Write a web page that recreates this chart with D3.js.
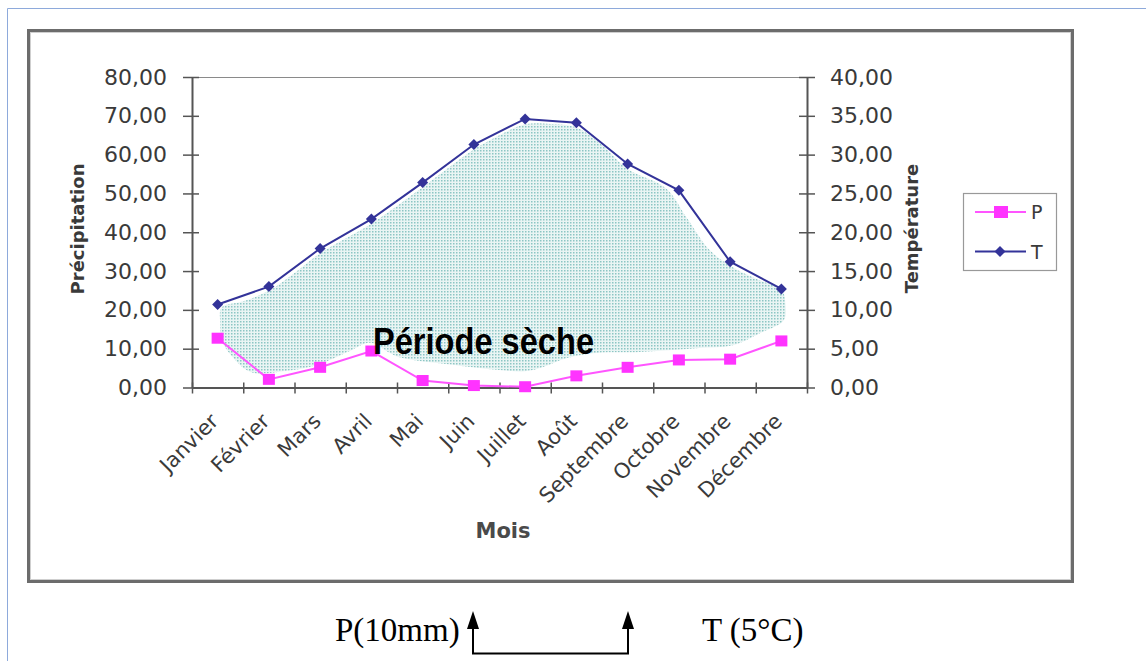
<!DOCTYPE html>
<html>
<head>
<meta charset="utf-8">
<script src="https://cdn.jsdelivr.net/npm/d3@7"></script>
<style>
  body { margin: 0; background: #ffffff; }
  svg { display: block; }
</style>
</head>
<body>
<svg id="chart" width="1146" height="661"></svg>
<script>
// Monthly climate data
const months = ["Janvier", "Février", "Mars", "Avril", "Mai", "Juin", "Juillet", "Août", "Septembre", "Octobre", "Novembre", "Décembre"];
const precipitation = [12.7, 2.1, 5.2, 9.4, 1.8, 0.5, 0.2, 3.0, 5.2, 7.1, 7.3, 12.0];
const temperature = [10.7, 13.0, 17.9, 21.7, 26.4, 31.3, 34.6, 34.1, 28.8, 25.4, 16.2, 12.7];
const precipTicks = [0, 10, 20, 30, 40, 50, 60, 70, 80];
const tempTicks = [0, 5, 10, 15, 20, 25, 30, 35, 40];
const seriesNames = ["P", "T"];

// Outline of the dry period zone: [month position, value on precipitation axis]
const dryZone = [
  [0.08, 20.6], [0.5, 22.2], [1.0, 24.9], [1.5, 29.5], [2.0, 34.6], [3.0, 42.2],
  [4.0, 51.6], [5.0, 61.3], [5.5, 65.0], [6.0, 67.8], [6.5, 67.9], [7.0, 67.0],
  [7.5, 62.5], [8.0, 56.3], [8.75, 51.3], [9.15, 43.8], [9.6, 35.4], [10.05, 31.0],
  [10.58, 27.6], [11.0, 25.3], [11.08, 21.5], [11.05, 17.4], [10.58, 14.0],
  [10.05, 10.9], [9.4, 10.2], [8.8, 9.6], [8.15, 9.1], [7.5, 9.0], [6.82, 7.6],
  [6.35, 5.3], [6.0, 4.2], [5.5, 4.5], [4.5, 6.0], [3.5, 8.0], [2.98, 11.5],
  [2.58, 9.4], [1.94, 5.8], [1.28, 4.2], [0.64, 4.0], [0.25, 8.5], [0.08, 12.2],
  [0.05, 16.5]
];

const sans = "'DejaVu Sans', sans-serif";
const textColor = "#3a3a3a";
const axisColor = "#555555";
const pColor = "#ff33ff";
const pLine = "#ff55ff";
const tColor = "#333399";

const svg = d3.select("#chart");

// Plot area bounds
const plotLeft = 192, plotRight = 807, plotTop = 77, plotBottom = 387.5;

const x = d3.scaleBand().domain(months).range([plotLeft, plotRight]);
const xPos = d3.scaleLinear().domain([-0.5, months.length - 0.5]).range([plotLeft, plotRight]);
const yP = d3.scaleLinear().domain([0, 80]).range([plotBottom, plotTop]);
const yT = d3.scaleLinear().domain([0, 40]).range([plotBottom, plotTop]);
const cx = m => x(m) + x.bandwidth() / 2;
const fmt = d => d3.format(".2f")(d).replace(".", ",");

// Page edge
svg.append("path")
  .attr("d", "M7.5,661V8.5H1146")
  .attr("fill", "none")
  .attr("stroke", "#8eaadb")
  .attr("stroke-width", 1);

// Chart frame
svg.append("rect")
  .attr("x", 28.5).attr("y", 30.5)
  .attr("width", 1044).attr("height", 551)
  .attr("fill", "#ffffff")
  .attr("stroke", "#6c6c6c")
  .attr("stroke-width", 3);
svg.append("rect")
  .attr("x", 30.5).attr("y", 32.5)
  .attr("width", 1040).attr("height", 547)
  .attr("fill", "none")
  .attr("stroke", "#cfcfcf")
  .attr("stroke-width", 1);

// Dotted fill pattern
const pattern = svg.append("defs").append("pattern")
  .attr("id", "dots")
  .attr("patternUnits", "userSpaceOnUse")
  .attr("width", 3).attr("height", 3);
pattern.append("rect").attr("width", 3).attr("height", 3).attr("fill", "#eaf5f4");
pattern.append("rect").attr("width", 1.5).attr("height", 1.5).attr("fill", "#8cc6c4");

// Plot area top border
svg.append("line")
  .attr("x1", plotLeft).attr("x2", plotRight)
  .attr("y1", plotTop + 0.5).attr("y2", plotTop + 0.5)
  .attr("stroke", "#8a8a8a").attr("stroke-width", 1);

// Dry period zone
svg.append("path")
  .datum(dryZone)
  .attr("d", d3.line()
    .x(d => xPos(d[0]))
    .y(d => yP(d[1]))
    .curve(d3.curveCatmullRomClosed))
  .attr("fill", "url(#dots)")
  .attr("stroke", "none");

// Left axis (precipitation)
const gL = svg.append("g")
  .attr("transform", `translate(${plotLeft},0)`)
  .call(d3.axisLeft(yP).tickValues(precipTicks).tickFormat(fmt)
    .tickSize(8).tickSizeOuter(0).tickPadding(17));
gL.select(".domain").attr("stroke", axisColor).attr("stroke-width", 2);
gL.selectAll(".tick line").attr("x1", 7).attr("x2", -9).attr("stroke", axisColor).attr("stroke-width", 1.5);
gL.selectAll(".tick text")
  .attr("fill", textColor).attr("font-family", sans).attr("font-size", 22);

// Right axis (temperature)
const gR = svg.append("g")
  .attr("transform", `translate(${plotRight},0)`)
  .call(d3.axisRight(yT).tickValues(tempTicks).tickFormat(fmt)
    .tickSize(8).tickSizeOuter(0).tickPadding(15));
gR.select(".domain").attr("stroke", axisColor).attr("stroke-width", 2);
gR.selectAll(".tick line").attr("x1", -8).attr("x2", 8).attr("stroke", axisColor).attr("stroke-width", 1.5);
gR.selectAll(".tick text")
  .attr("fill", textColor).attr("font-family", sans).attr("font-size", 22);

// Bottom axis with ticks between months
const gB = svg.append("g")
  .attr("transform", `translate(0,${plotBottom})`)
  .call(d3.axisBottom(xPos).tickValues(d3.range(-0.5, months.length, 1)).tickFormat("")
    .tickSize(6).tickSizeOuter(0));
gB.select(".domain").attr("stroke", axisColor).attr("stroke-width", 2);
gB.selectAll(".tick line").attr("y1", -5).attr("y2", 6).attr("stroke", axisColor).attr("stroke-width", 1.5);

// Month labels
svg.append("g").selectAll("text")
  .data(months)
  .join("text")
  .attr("transform", m => `translate(${cx(m) + 2},${plotBottom + 35}) rotate(-45)`)
  .attr("text-anchor", "end")
  .attr("font-family", sans).attr("font-size", 21)
  .attr("fill", textColor)
  .text(m => m);

// Axis titles
svg.append("text")
  .attr("transform", "translate(84,229) rotate(-90)")
  .attr("text-anchor", "middle")
  .attr("font-family", sans).attr("font-size", 18).attr("font-weight", "bold")
  .attr("fill", textColor)
  .text("Précipitation");
svg.append("text")
  .attr("transform", "translate(918,228.5) rotate(-90)")
  .attr("text-anchor", "middle")
  .attr("font-family", sans).attr("font-size", 18).attr("font-weight", "bold")
  .attr("fill", textColor)
  .text("Température");
svg.append("text")
  .attr("x", 503).attr("y", 538)
  .attr("text-anchor", "middle")
  .attr("font-family", sans).attr("font-size", 21).attr("font-weight", "bold")
  .attr("fill", "#4a4a4a")
  .text("Mois");

// Precipitation series
svg.append("path")
  .datum(precipitation)
  .attr("d", d3.line().x((d, i) => cx(months[i])).y(d => yP(d)))
  .attr("fill", "none").attr("stroke", pLine).attr("stroke-width", 2);
svg.append("g").selectAll("rect")
  .data(precipitation)
  .join("rect")
  .attr("x", (d, i) => cx(months[i]) - 6)
  .attr("y", d => yP(d) - 5.5)
  .attr("width", 12).attr("height", 11)
  .attr("fill", pColor);

// Temperature series
const diamond = "M0,-5.5L5.5,0L0,5.5L-5.5,0Z";
svg.append("path")
  .datum(temperature)
  .attr("d", d3.line().x((d, i) => cx(months[i])).y(d => yT(d)))
  .attr("fill", "none").attr("stroke", tColor).attr("stroke-width", 2);
svg.append("g").selectAll("path")
  .data(temperature)
  .join("path")
  .attr("transform", (d, i) => `translate(${cx(months[i])},${yT(d)})`)
  .attr("d", diamond)
  .attr("fill", tColor);

// Dry period label
svg.append("text")
  .attr("x", 373).attr("y", 354)
  .attr("font-family", "'Liberation Sans', Arial, sans-serif")
  .attr("font-size", 36).attr("font-weight", "bold")
  .attr("textLength", 221).attr("lengthAdjust", "spacingAndGlyphs")
  .attr("fill", "#000000")
  .text("Période sèche");

// Legend
const legend = svg.append("g");
legend.append("rect")
  .attr("x", 963.5).attr("y", 193.5)
  .attr("width", 93).attr("height", 77)
  .attr("fill", "#ffffff").attr("stroke", "#999999").attr("stroke-width", 1.2);
const legendRows = legend.selectAll("g.row")
  .data(seriesNames)
  .join("g")
  .attr("class", "row")
  .attr("transform", (d, i) => `translate(0,${212 + i * 39.5})`);
legendRows.append("line")
  .attr("x1", 975).attr("x2", 1026)
  .attr("stroke", (d, i) => i === 0 ? pLine : tColor)
  .attr("stroke-width", 2);
legendRows.filter((d, i) => i === 0).append("rect")
  .attr("x", 994).attr("y", -6).attr("width", 14).attr("height", 12)
  .attr("fill", pColor);
legendRows.filter((d, i) => i === 1).append("path")
  .attr("transform", "translate(1000,0)")
  .attr("d", diamond)
  .attr("fill", tColor);
legendRows.append("text")
  .attr("x", 1031).attr("y", 7)
  .attr("font-family", sans).attr("font-size", 19)
  .attr("fill", textColor)
  .text(d => d);

// Scale note under the chart
const note = svg.append("g");
note.append("text")
  .attr("x", 335).attr("y", 641)
  .attr("font-family", "'Liberation Serif', 'Times New Roman', serif")
  .attr("font-size", 33).attr("fill", "#000000")
  .text("P(10mm)");
note.append("text")
  .attr("x", 702).attr("y", 641)
  .attr("font-family", "'Liberation Serif', 'Times New Roman', serif")
  .attr("font-size", 33).attr("fill", "#000000")
  .text("T (5°C)");
note.append("path")
  .attr("d", "M473,624V653.5H628V624")
  .attr("fill", "none").attr("stroke", "#000000").attr("stroke-width", 2);
note.selectAll("path.head")
  .data([473, 628])
  .join("path")
  .attr("class", "head")
  .attr("d", d => `M${d},611L${d + 6},629L${d - 6},629Z`)
  .attr("fill", "#000000");
</script>
</body>
</html>
